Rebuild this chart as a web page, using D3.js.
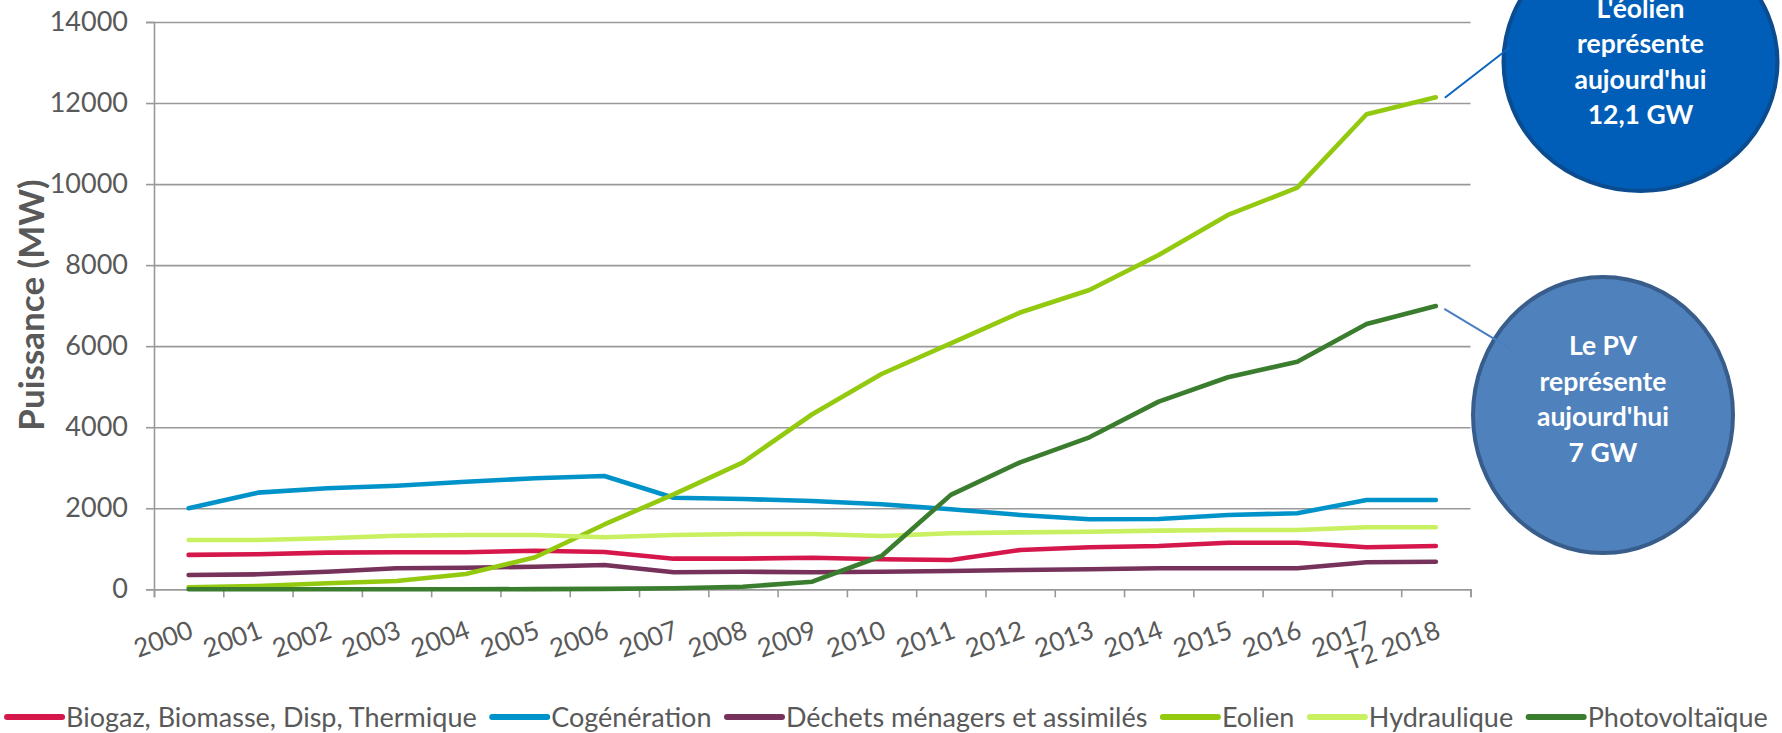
<!DOCTYPE html>
<html>
<head>
<meta charset="utf-8">
<script src="https://cdn.jsdelivr.net/npm/d3@7"></script>
<style>
  html, body { margin: 0; padding: 0; background: #fff; overflow: hidden; }
  svg { display: block; font-family: Lato, "Open Sans", sans-serif; }
</style>
</head>
<body>
<svg id="chart" width="1782" height="733"></svg>
<script>
// data (MW)
const categories = ['2000', '2001', '2002', '2003', '2004', '2005', '2006', '2007', '2008', '2009',
  '2010', '2011', '2012', '2013', '2014', '2015', '2016', '2017', 'T2 2018'];

const biogaz = [850, 864, 904, 913, 913, 953, 920, 756, 756, 780, 740, 723, 970, 1036, 1069, 1150, 1150, 1036, 1069];
const cogeneration = [2000, 2385, 2492, 2557, 2656, 2739, 2796, 2261, 2229, 2179, 2097, 1974, 1834, 1727, 1735, 1834, 1876, 2204, 2204];
const dechets = [353, 370, 434, 518, 533, 558, 600, 419, 434, 419, 434, 452, 476, 494, 518, 518, 518, 666, 681];
const eolien = [49, 81, 148, 205, 378, 790, 1600, 2344, 3134, 4320, 5313, 6071, 6830, 7387, 8250, 9238, 9912, 11723, 12142];
const hydraulique = [1217, 1217, 1258, 1323, 1340, 1340, 1283, 1340, 1365, 1365, 1315, 1382, 1406, 1422, 1447, 1464, 1464, 1530, 1530];
const photovoltaique = [0, 0, 0, 0, 0, 5, 10, 25, 64, 188, 822, 2330, 3134, 3751, 4631, 5232, 5617, 6548, 6992];

const seriesNames = ['Biogaz, Biomasse, Disp, Thermique', 'Cogénération', 'Déchets ménagers et assimilés',
  'Eolien', 'Hydraulique', 'Photovoltaïque'];
const seriesValues = [biogaz, cogeneration, dechets, eolien, hydraulique, photovoltaique];
const seriesColors = ['#D6174B', '#0093C9', '#76325A', '#93C90F', '#C8F060', '#3A7D2E'];

const yTicks = [0, 2000, 4000, 6000, 8000, 10000, 12000, 14000];

const eolienNote = ["L'éolien", 'représente', "aujourd'hui", '12,1 GW'];
const pvNote = ['Le PV', 'représente', "aujourd'hui", '7 GW'];

const width = 1782, height = 733;
const margin = { top: 22, right: 311.5, bottom: 143.7, left: 154 };
const plotLeft = margin.left, plotRight = width - margin.right;
const plotTop = margin.top, plotBottom = height - margin.bottom;

const svg = d3.select('#chart');

// scales in page coordinates
const x = d3.scaleBand().domain(categories).range([plotLeft, plotRight]);
const xEdge = d3.scaleLinear().domain([0, categories.length]).range([plotLeft, plotRight]);
const y = d3.scaleLinear().domain([0, 14000]).range([plotBottom, plotTop]);
const cx = d => x(d) + x.bandwidth() / 2;

// gridlines
svg.append('g')
  .attr('transform', `translate(${plotLeft},0)`)
  .call(d3.axisLeft(y).tickValues(yTicks).tickSize(-(plotRight - plotLeft)).tickFormat(''))
  .call(s => s.select('.domain').remove())
  .selectAll('line')
  .attr('stroke', '#999')
  .attr('stroke-width', 1.6);

// y axis line + ticks
const yAxis = svg.append('g')
  .attr('transform', `translate(${plotLeft},0)`)
  .call(d3.axisLeft(y).tickValues(yTicks).tickSize(8).tickFormat(''));
yAxis.select('.domain').attr('stroke', '#999').attr('stroke-width', 1.6);
yAxis.selectAll('line').attr('stroke', '#999').attr('stroke-width', 1.6);

svg.append('g')
  .selectAll('text')
  .data(yTicks)
  .join('text')
  .attr('x', plotLeft - 26)
  .attr('y', d => y(d))
  .attr('dy', '0.34em')
  .attr('text-anchor', 'end')
  .attr('fill', '#595959')
  .style('font-size', '27px')
  .text(d3.format('d'));

// x axis: ticks between categories
const xAxis = svg.append('g')
  .attr('transform', `translate(0,${plotBottom})`)
  .call(d3.axisBottom(xEdge).tickValues(d3.range(categories.length + 1)).tickSize(8).tickFormat(''));
xAxis.select('.domain').attr('stroke', '#999').attr('stroke-width', 1.6);
xAxis.selectAll('line').attr('stroke', '#999').attr('stroke-width', 1.6);

svg.append('g')
  .selectAll('text')
  .data(categories)
  .join('text')
  .attr('x', d => cx(d) + 6)
  .attr('y', plotBottom + 48)
  .attr('transform', d => `rotate(-20,${cx(d) + 6},${plotBottom + 48})`)
  .attr('text-anchor', 'end')
  .attr('fill', '#595959')
  .style('font-size', '26px')
  .text(d => d);

// y title
svg.append('text')
  .attr('x', 44)
  .attr('y', 305)
  .attr('transform', 'rotate(-90,44,305)')
  .attr('text-anchor', 'middle')
  .attr('fill', '#595959')
  .style('font-size', '35px')
  .style('font-weight', 'bold')
  .text('Puissance (MW)');

// lines
const line = d3.line()
  .x((d, i) => cx(categories[i]))
  .y(d => y(d));

svg.append('g')
  .selectAll('path')
  .data(seriesValues)
  .join('path')
  .attr('fill', 'none')
  .attr('stroke', (d, i) => seriesColors[i])
  .attr('stroke-width', 4.6)
  .attr('stroke-linecap', 'round')
  .attr('stroke-linejoin', 'round')
  .attr('d', line);

// legend, centred under the chart
const legendY = 717;
const legend = svg.append('g');
const swatches = legend.selectAll('line')
  .data(seriesNames)
  .join('line')
  .attr('y1', legendY).attr('y2', legendY)
  .attr('stroke', (d, i) => seriesColors[i])
  .attr('stroke-width', 6)
  .attr('stroke-linecap', 'round');
const labels = legend.selectAll('text')
  .data(seriesNames)
  .join('text')
  .attr('y', legendY + 9.5)
  .attr('fill', '#595959')
  .style('font-size', '27px')
  .text(d => d);

const widths = labels.nodes().map(n => 59 + n.getComputedTextLength());
const total = d3.sum(widths) + 15.5 * (widths.length - 1);
const starts = [];
let offset = 887.4 - total / 2;
widths.forEach(w => { starts.push(offset); offset += w + 15.5; });
swatches.attr('x1', (d, i) => starts[i]).attr('x2', (d, i) => starts[i] + 55);
labels.attr('x', (d, i) => starts[i] + 59);

// callouts
const lastX = cx(categories[categories.length - 1]);

function callout(lines, ex, ey, rx, ry, fill, stroke, lineColor, from, to, firstBaseline) {
  const c = svg.append('g');
  c.append('ellipse')
    .attr('cx', ex).attr('cy', ey)
    .attr('rx', rx).attr('ry', ry)
    .attr('fill', fill)
    .attr('stroke', stroke)
    .attr('stroke-width', 4);
  c.append('line')
    .attr('x1', from[0]).attr('y1', from[1])
    .attr('x2', to[0]).attr('y2', to[1])
    .attr('stroke', lineColor)
    .attr('stroke-width', 2);
  c.selectAll('text')
    .data(lines)
    .join('text')
    .attr('x', ex)
    .attr('y', (d, i) => firstBaseline + i * 35.5)
    .attr('text-anchor', 'middle')
    .attr('fill', '#fff')
    .style('font-size', '26.5px')
    .style('font-weight', 'bold')
    .text(d => d);
}

callout(eolienNote, 1640.5, 62, 137, 129, '#005EB8', '#0A4C8F', '#0A64C0',
  [lastX + 9, y(eolien[eolien.length - 1]) + 0.5], [1510.7, 46.7], 17.5);
callout(pvNote, 1603, 415, 130, 138, '#4F81BD', '#385D8A', '#4A7EC0',
  [lastX + 8.5, y(photovoltaique[photovoltaique.length - 1]) + 3], [1510, 348.3], 355);
</script>
</body>
</html>
